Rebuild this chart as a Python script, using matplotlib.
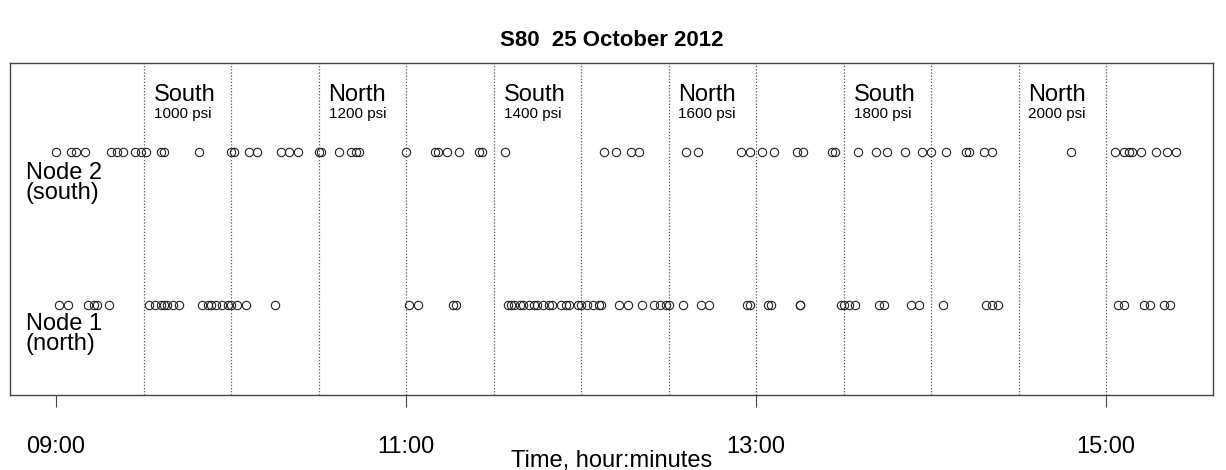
import matplotlib
matplotlib.use("Agg")
import matplotlib.pyplot as plt
import matplotlib.transforms as mtransforms

plt.rcParams['font.family'] = ['Liberation Sans', 'DejaVu Sans']

title = "S80  25 October 2012"
x_label = "Time, hour:minutes"

node_labels = [("Node 1", "(north)"), ("Node 2", "(south)")]

node1_times = ["09:01", "09:04", "09:11", "09:13", "09:14", "09:18", "09:32", "09:34", "09:36",
               "09:37", "09:38", "09:40", "09:42", "09:50", "09:52", "09:53", "09:55", "09:57",
               "09:59", "10:00", "10:02", "10:05", "10:15", "11:01", "11:04", "11:16", "11:17",
               "11:35", "11:36", "11:37", "11:39", "11:40", "11:42", "11:44", "11:45", "11:47",
               "11:49", "11:50", "11:53", "11:55", "11:56", "11:59", "12:00", "12:02", "12:04",
               "12:06", "12:07", "12:13", "12:16", "12:21", "12:25", "12:27", "12:29", "12:30",
               "12:35", "12:41", "12:44", "12:57", "12:58", "13:04", "13:05", "13:15", "13:15",
               "13:29", "13:30", "13:32", "13:34", "13:42", "13:44", "13:53", "13:56", "14:04",
               "14:19", "14:21", "14:23", "15:04", "15:06", "15:13", "15:15", "15:20", "15:22"]

node2_times = ["09:00", "09:05", "09:07", "09:10", "09:19", "09:21", "09:23", "09:27", "09:29",
               "09:31", "09:36", "09:37", "09:49", "10:00", "10:01", "10:06", "10:09", "10:17",
               "10:20", "10:23", "10:30", "10:31", "10:37", "10:41", "10:43", "10:44", "11:00",
               "11:10", "11:11", "11:14", "11:18", "11:25", "11:26", "11:34", "12:08", "12:12",
               "12:17", "12:20", "12:36", "12:40", "12:55", "12:58", "13:02", "13:06", "13:14",
               "13:16", "13:26", "13:27", "13:35", "13:41", "13:45", "13:51", "13:57", "14:00",
               "14:05", "14:12", "14:13", "14:18", "14:21", "14:48", "15:03", "15:06", "15:08",
               "15:09", "15:12", "15:17", "15:21", "15:24"]

period_starts = ["09:30", "10:30", "11:30", "12:30", "13:30", "14:30"]
period_sides = ["South", "North", "South", "North", "South", "North"]
period_psi = ["1000 psi", "1200 psi", "1400 psi", "1600 psi", "1800 psi", "2000 psi"]

divider_times = ["09:30", "10:00", "10:30", "11:00", "11:30", "12:00",
                 "12:30", "13:00", "13:30", "14:00", "14:30", "15:00"]
tick_labels = ["09:00", "11:00", "13:00", "15:00"]


def to_hours(s):
    h, m = s.split(":")
    return int(h) + int(m) / 60.0


fig = plt.figure(figsize=(12.26, 4.70), dpi=100)
ax = fig.add_axes([10 / 1226, 1 - 395 / 470, 1203 / 1226, 332 / 470])

for yv, times in ((1, node1_times), (2, node2_times)):
    xs = [to_hours(t) for t in times]
    ax.plot(xs, [yv] * len(xs), linestyle='none', marker='o', markersize=6,
            markerfacecolor='none', markeredgecolor='#222222', markeredgewidth=0.8)

for t in divider_times:
    ax.axvline(to_hours(t), color='#555555', linestyle=(0, (1, 1.5)), linewidth=0.9)

ax.set_xlim(9 - 46 / 175, 9 + 1157 / 175)
ax.set_ylim(0.412, 2.581)

trans = mtransforms.blended_transform_factory(ax.transData, ax.transAxes)
for start, side, psi in zip(period_starts, period_sides, period_psi):
    x0 = to_hours(start) + 10 / 175
    ax.text(x0, 0.886, side, transform=trans, fontsize=17, ha='left', va='baseline')
    ax.text(x0, 0.834, psi, transform=trans, fontsize=11, ha='left', va='baseline')

label_y = {1: (0.196, 0.136), 2: (0.651, 0.590)}
for i, (l1, l2) in enumerate(node_labels, start=1):
    y1, y2 = label_y[i]
    ax.text(0.0133, y1, l1, transform=ax.transAxes, fontsize=17, ha='left', va='baseline')
    ax.text(0.0133, y2, l2, transform=ax.transAxes, fontsize=17, ha='left', va='baseline')

ax.set_xticks([to_hours(t) for t in tick_labels])
ax.set_xticklabels(tick_labels, fontsize=17)
ax.set_yticks([])
ax.tick_params(axis='x', length=8.5, width=0.8, color='#444444', pad=21)
for sp in ax.spines.values():
    sp.set_color('#444444')
    sp.set_linewidth(1.0)

fig.text((10 + 1213) / 2 / 1226, 1 - 461 / 470, x_label, fontsize=17,
         ha='center', va='center')
fig.text((10 + 1213) / 2 / 1226, 1 - 40 / 470, title, fontsize=16, fontweight='bold',
         ha='center', va='center')

fig.savefig("out.png", dpi=100)
